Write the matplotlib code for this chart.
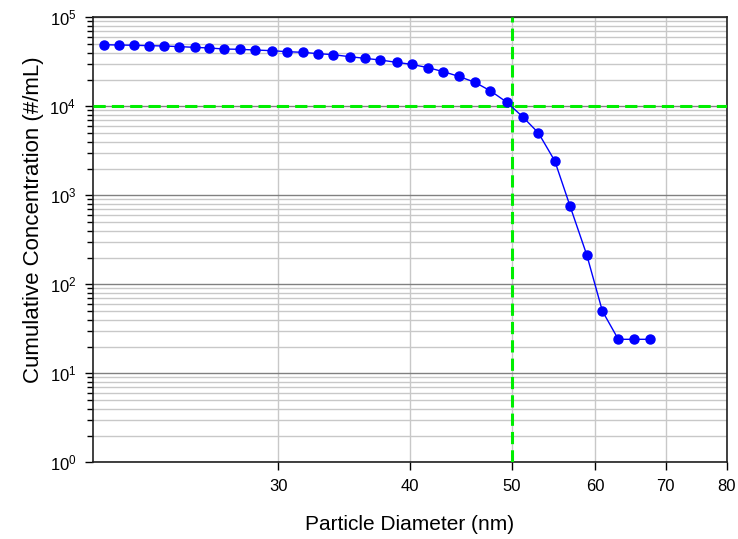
import numpy as np
import matplotlib
matplotlib.use('Agg')
import matplotlib.pyplot as plt
from matplotlib.ticker import LogLocator, FixedLocator, NullLocator, NullFormatter, LogFormatterSciNotation

plt.rcParams['font.family'] = ['Liberation Sans', 'DejaVu Sans']

# data
diameter = [20.49, 21.17, 21.89, 22.59, 23.37, 24.17, 24.98, 25.78, 26.67, 27.56,
            28.50, 29.56, 30.57, 31.65, 32.75, 33.85, 35.06, 36.26, 37.51, 38.86,
            40.15, 41.61, 43.05, 44.52, 46.12, 47.72, 49.46, 51.22, 53.00, 54.93,
            56.80, 58.91, 60.95, 63.11, 65.35, 67.66]
concentration = [49200, 48800, 48500, 48000, 47600, 46800, 46000, 45200, 44000, 43700,
                 42900, 42200, 41100, 40400, 39000, 38000, 36100, 34600, 33100, 31200,
                 29600, 27200, 24500, 21700, 18600, 14900, 11100, 7590, 5010, 2430,
                 752, 213, 50.1, 24.1, 24.1, 24.1]
x_ticks = [30, 40, 50, 60, 70, 80]
cut_diameter = 50
cut_conc = 1e4

fig = plt.figure(figsize=(7.38, 5.39), dpi=100)
ax = fig.add_axes([0.1259, 0.1423, 0.8588, 0.8256])

ax.set_xscale('log')
ax.set_yscale('log')
ax.set_xlim(20, 80)
ax.set_ylim(1, 1e5)

# ticks + grid
ax.xaxis.set_major_locator(FixedLocator(x_ticks))
ax.xaxis.set_minor_locator(NullLocator())
ax.xaxis.set_major_formatter(plt.FuncFormatter(lambda v, p: '%d' % v))
ax.xaxis.set_minor_formatter(NullFormatter())
ax.yaxis.set_major_locator(LogLocator(base=10, numticks=10))
ax.yaxis.set_minor_locator(LogLocator(base=10, subs=np.arange(2, 10), numticks=20))
ax.yaxis.set_major_formatter(LogFormatterSciNotation())
ax.yaxis.set_minor_formatter(NullFormatter())

ax.grid(True, axis='x', which='major', color='#c8c8c8', lw=1.0)
ax.grid(True, axis='y', which='major', color='#808080', lw=1.0)
ax.grid(True, axis='y', which='minor', color='#c8c8c8', lw=1.0)
ax.set_axisbelow(True)

ax.tick_params(axis='x', which='major', direction='out', length=6, width=1, labelsize=12, pad=6)
ax.tick_params(axis='y', which='major', direction='out', length=6, width=1, labelsize=12, pad=6)
ax.tick_params(axis='y', which='minor', direction='out', length=4, width=1)
for s in ax.spines.values():
    s.set_linewidth(1.2)
    s.set_color('#202020')

ax.axvline(cut_diameter, color='#00ee00', lw=2.2, ls=(0, (4, 2)), zorder=3)
ax.axhline(cut_conc, color='#00ee00', lw=2.2, ls=(0, (4, 2)), zorder=3)

ax.plot(diameter, concentration, color='#0000ff', lw=1.0, marker='o',
        markersize=6.5, markerfacecolor='#0000ff', markeredgecolor='#0000ff', zorder=4)

ax.set_xlabel('Particle Diameter (nm)', fontsize=15, va='center')
ax.xaxis.set_label_coords(0.5, -0.14)
ax.set_ylabel('Cumulative Concentration (#/mL)', fontsize=16, va='center')
ax.yaxis.set_label_coords(-0.0945, 0.545)

plt.savefig('out.png', dpi=100)
